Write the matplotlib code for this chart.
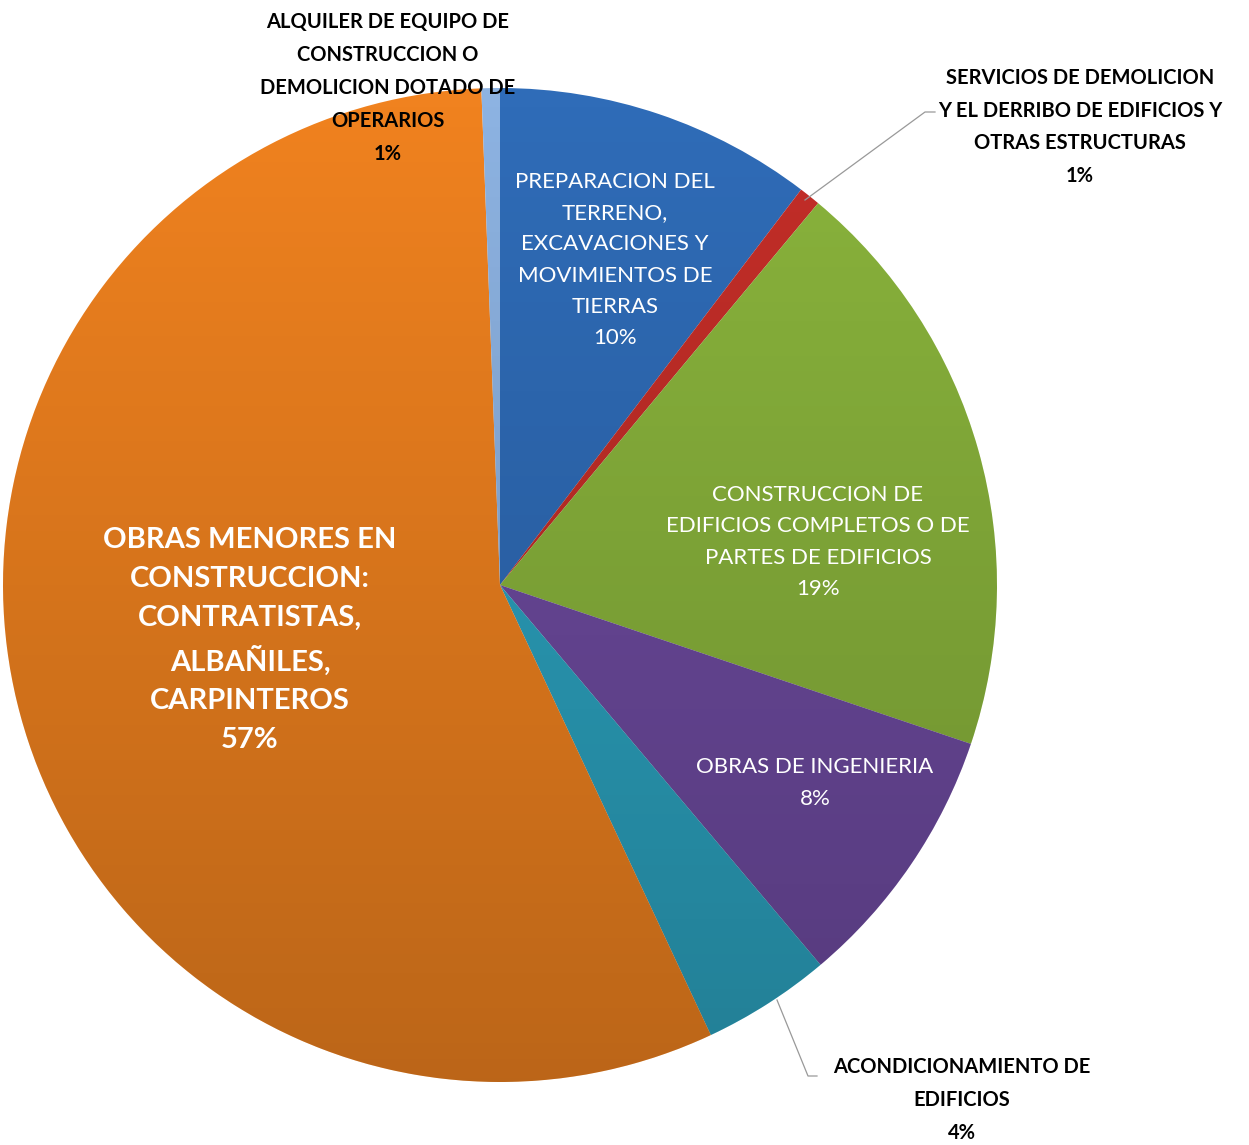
import numpy as np
import matplotlib.pyplot as plt
from matplotlib.patches import Circle

# shares (clockwise from 12 o'clock)
categorias = ['PREPARACION DEL\nTERRENO,\nEXCAVACIONES Y\nMOVIMIENTOS DE\nTIERRAS',
              'SERVICIOS DE DEMOLICION\nY EL DERRIBO DE EDIFICIOS Y\nOTRAS ESTRUCTURAS',
              'CONSTRUCCION DE\nEDIFICIOS COMPLETOS O DE\nPARTES DE EDIFICIOS',
              'OBRAS DE INGENIERIA',
              'ACONDICIONAMIENTO DE\nEDIFICIOS',
              'OBRAS MENORES EN\nCONSTRUCCION:\nCONTRATISTAS,\nALBAÑILES,\nCARPINTEROS',
              'ALQUILER DE EQUIPO DE\nCONSTRUCCION O\nDEMOLICION DOTADO DE\nOPERARIOS']
valores = [10.4, 0.7, 19.2, 8.7, 4.2, 56.6, 0.6]
porcentajes = ['10%', '1%', '19%', '8%', '4%', '57%', '1%']
colores = ['#2F6CB8', '#C42E28', '#8AB43C', '#6E4BA0', '#2CA3C0', '#F0821F', '#8DB3E2']

plt.rcParams['font.family'] = ['Lato', 'DejaVu Sans']

W, H = 1249, 1145
fig = plt.figure(figsize=(W / 100, H / 100), dpi=100)
ax = fig.add_axes([0, 0, 1, 1])

cx, cy, r = 500, H - 585, 497
wedges, _ = ax.pie(valores, colors=colores, startangle=90, counterclock=False,
                   center=(cx, cy), radius=r, frame=True,
                   wedgeprops=dict(linewidth=0))
ax.set_xlim(0, W)
ax.set_ylim(0, H)
ax.set_aspect('equal')
ax.axis('off')

# darker towards the bottom, like the original shaded fill
sombra = np.zeros((256, 1, 4))
sombra[:, 0, 3] = np.linspace(0.0, 0.22, 256)
img = ax.imshow(sombra, extent=(cx - r, cx + r, cy - r, cy + r),
                origin='upper', aspect='auto', zorder=3)
img.set_clip_path(Circle((cx, cy), r, transform=ax.transData))

def px(x, y):
    return x, H - y

blanco = dict(color='white', ha='center', va='center', zorder=5)
ax.text(*px(615, 260), categorias[0] + '\n' + porcentajes[0], fontsize=16,
        linespacing=1.7, **blanco)
ax.text(*px(818, 542), categorias[2] + '\n' + porcentajes[2], fontsize=16,
        linespacing=1.7, **blanco)
ax.text(*px(815, 783), categorias[3] + '\n' + porcentajes[3], fontsize=16,
        linespacing=1.7, **blanco)
ax.text(*px(250, 640), categorias[5] + '\n' + porcentajes[5], fontsize=21,
        fontweight='bold', linespacing=1.6, **blanco)

negro = dict(color='black', ha='center', va='center', fontsize=14.5,
             fontweight='bold', zorder=5, linespacing=1.8)
ax.text(*px(388, 88), categorias[6] + '\n' + porcentajes[6], **negro)
ax.text(*px(1080, 127), categorias[1] + '\n' + porcentajes[1], **negro)
ax.text(*px(962, 1100), categorias[4] + '\n' + porcentajes[4], **negro)

# leader lines
ax.plot(*zip(px(805, 200), px(925, 112), px(935, 112)), color='#999999', lw=0.9, zorder=4)
ax.plot(*zip(px(777, 1000), px(808, 1076), px(817, 1076)), color='#999999', lw=0.9, zorder=4)

fig.savefig('out.png', dpi=100, facecolor='white')
